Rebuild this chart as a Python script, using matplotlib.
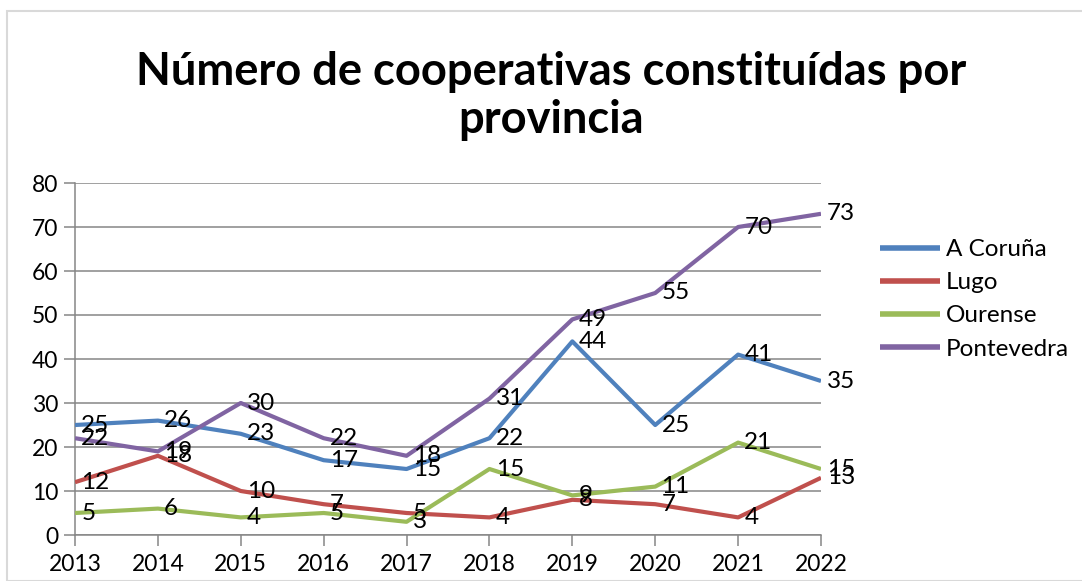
import matplotlib
matplotlib.use("Agg")
import matplotlib.pyplot as plt
from matplotlib.patches import Rectangle

years = [2013, 2014, 2015, 2016, 2017, 2018, 2019, 2020, 2021, 2022]
a_coruna = [25, 26, 23, 17, 15, 22, 44, 25, 41, 35]
lugo = [12, 18, 10, 7, 5, 4, 8, 7, 4, 13]
ourense = [5, 6, 4, 5, 3, 15, 9, 11, 21, 15]
pontevedra = [22, 19, 30, 22, 18, 31, 49, 55, 70, 73]
series_names = ["A Coruña", "Lugo", "Ourense", "Pontevedra"]
colors = ["#4F81BD", "#C0504D", "#9BBB59", "#8064A2"]
title = "Número de cooperativas constituídas por\nprovincia"
yticks = [0, 10, 20, 30, 40, 50, 60, 70, 80]

plt.rcParams['font.family'] = ['Lato', 'DejaVu Sans']

W, H = 1082, 581
fig = plt.figure(figsize=(W / 100, H / 100), dpi=100)
fig.patch.set_facecolor("white")

# chart area border
fig.add_artist(Rectangle((7 / W, 0), 1.2, 1 - 10.5 / H, transform=fig.transFigure,
                         fill=False, edgecolor="#D9D9D9", linewidth=1.5))

left, right, bottom, top = 75, 821, 535, 183
ax = fig.add_axes([left / W, 1 - bottom / H, (right - left) / W, (bottom - top) / H])

data = [a_coruna, lugo, ourense, pontevedra]
for name, vals, c in zip(series_names, data, colors):
    ax.plot(years, vals, color=c, linewidth=3.0, label=name, solid_capstyle="butt", zorder=3)
for vals in data:
    for x, v in zip(years, vals):
        ax.annotate(str(v), (x, v), xytext=(4.5, 0), textcoords="offset points",
                    ha="left", va="center", fontsize=17.5, color="black", zorder=4)

ax.set_xlim(years[0], years[-1])
ax.set_ylim(0, 80)
ax.set_yticks(yticks)
ax.set_xticks(years)
ax.grid(axis="y", color="#868686", linewidth=1.1)
ax.set_axisbelow(True)
for s in ["top", "right"]:
    ax.spines[s].set_visible(False)
for s in ["left", "bottom"]:
    ax.spines[s].set_color("#868686")
    ax.spines[s].set_linewidth(1.1)
ax.tick_params(axis="both", colors="#868686", labelcolor="black", labelsize=16.5,
               length=8, width=1.1)
ax.tick_params(axis="y", pad=4)
ax.tick_params(axis="x", pad=6)

fig.text(551 / W, 1 - 96 / H, title, ha="center", va="center", fontsize=32.6,
         fontweight="bold", linespacing=1.2)

leg = fig.legend(loc="upper left", bbox_to_anchor=(880 / W, 1 - 239 / H),
                 frameon=False, fontsize=17.5, handlelength=2.45, handletextpad=0.25,
                 labelspacing=0.5, borderaxespad=0, borderpad=0)
for line in leg.get_lines():
    line.set_linewidth(4)

fig.savefig("out.png", dpi=100)
